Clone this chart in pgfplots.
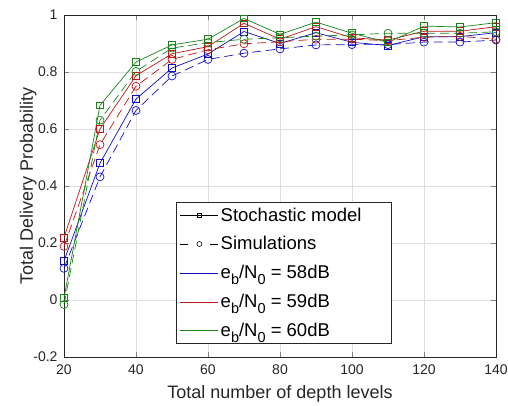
\documentclass[border=0pt]{standalone}
\usepackage{pgfplots}
\pgfplotsset{compat=1.18}
\usepackage{fontspec}
\setmainfont{Liberation Sans}
\definecolor{cb}{RGB}{15,15,190}
\definecolor{cr}{RGB}{185,25,25}
\definecolor{cg}{RGB}{25,130,25}
\newcommand{\sbs}[1]{\raisebox{-0.55ex}{\fontsize{14.5}{14}\selectfont #1}}
\begin{document}
\begin{tikzpicture}
\useasboundingbox (-64pt,-49pt) rectangle (444pt,357pt);
\begin{axis}[
  at={(0pt,0pt)}, anchor=south west,
  scale only axis, width=432pt, height=342pt,
  xmin=20, xmax=140, ymin=-0.2, ymax=1,
  xtick={20,40,...,140}, ytick={-0.2,0,0.2,0.4,0.6,0.8,1},
  yticklabels={-0.2,0,0.2,0.4,0.6,0.8,1},
  /pgf/number format/assume math mode=true,
  tick label style={font=\fontsize{14}{16}\selectfont, color=black!85},
  xticklabel style={yshift=-4pt},
  yticklabel style={xshift=-3pt},
  label style={font=\fontsize{18}{20}\selectfont, color=black!85},
  xlabel={Total number of depth levels},
  ylabel={Total Delivery Probability},
  xlabel style={at={(axis description cs:0.5,-0.12)}, anchor=base},
  ylabel style={at={(axis description cs:-0.0826,0.5)}, anchor=center},
  tick align=inside, major tick length=5pt,
  axis line style={black!85, line width=0.6pt},
  grid=major, major grid style={black!13, line width=0.6pt},
  legend style={at={(0.26,0.038)}, anchor=south west, draw=black!85, line width=0.6pt,
    font=\fontsize{18.5}{20}\selectfont, row sep=10pt, inner sep=3.5pt,
    cells={anchor=west}},
  legend image code/.code={\draw[mark repeat=2,mark phase=2,#1] plot coordinates {(0pt,0pt) (19pt,0pt) (38pt,0pt)};},
  every axis plot/.append style={line width=0.7pt},
]
% blue
\addplot[cb, mark=square, mark size=3.4pt, forget plot] coordinates {
(20,0.137) (30,0.480) (40,0.705) (50,0.814) (60,0.863) (70,0.942) (80,0.900) (90,0.938) (100,0.904) (110,0.893) (120,0.924) (130,0.924) (140,0.938)};
\addplot[cb, dash pattern=on 9pt off 5pt, mark=o, mark size=4pt, mark options={solid}, forget plot] coordinates {
(20,0.111) (30,0.432) (40,0.665) (50,0.786) (60,0.844) (70,0.866) (80,0.881) (90,0.895) (100,0.896) (110,0.896) (120,0.905) (130,0.905) (140,0.912)};
% red
\addplot[cr, mark=square, mark size=3.4pt, forget plot] coordinates {
(20,0.219) (30,0.600) (40,0.787) (50,0.864) (60,0.889) (70,0.971) (80,0.915) (90,0.959) (100,0.920) (110,0.912) (120,0.943) (130,0.943) (140,0.959)};
\addplot[cr, dash pattern=on 9pt off 5pt, mark=o, mark size=4pt, mark options={solid}, forget plot] coordinates {
(20,0.188) (30,0.545) (40,0.750) (50,0.844) (60,0.878) (70,0.899) (80,0.906) (90,0.915) (100,0.915) (110,0.910) (120,0.922) (130,0.925) (140,0.915)};
% green
\addplot[cg, mark=square, mark size=3.4pt, forget plot] coordinates {
(20,0.007) (30,0.683) (40,0.835) (50,0.895) (60,0.915) (70,0.988) (80,0.932) (90,0.975) (100,0.936) (110,0.904) (120,0.961) (130,0.958) (140,0.973)};
\addplot[cg, dash pattern=on 9pt off 5pt, mark=o, mark size=4pt, mark options={solid}, forget plot] coordinates {
(20,-0.016) (30,0.631) (40,0.802) (50,0.884) (60,0.903) (70,0.915) (80,0.920) (90,0.926) (100,0.930) (110,0.936) (120,0.936) (130,0.936) (140,0.941)};
\addlegendimage{black, draw=black, line width=0.6pt, mark=square, mark size=2pt}
\addlegendentry{Stochastic model\rule{24pt}{0pt}}
\addlegendimage{black, draw=black, line width=0.6pt, dash pattern=on 8pt off 22pt, mark=o, mark size=2.5pt, mark options={solid}}
\addlegendentry{Simulations}
\addlegendimage{cb, draw=cb, line width=0.6pt}
\addlegendentry{e\sbs{b}/N\sbs{0} = 58dB}
\addlegendimage{cr, draw=cr, line width=0.6pt}
\addlegendentry{e\sbs{b}/N\sbs{0} = 59dB}
\addlegendimage{cg, draw=cg, line width=0.6pt}
\addlegendentry{e\sbs{b}/N\sbs{0} = 60dB}
\end{axis}
\end{tikzpicture}
\end{document}
